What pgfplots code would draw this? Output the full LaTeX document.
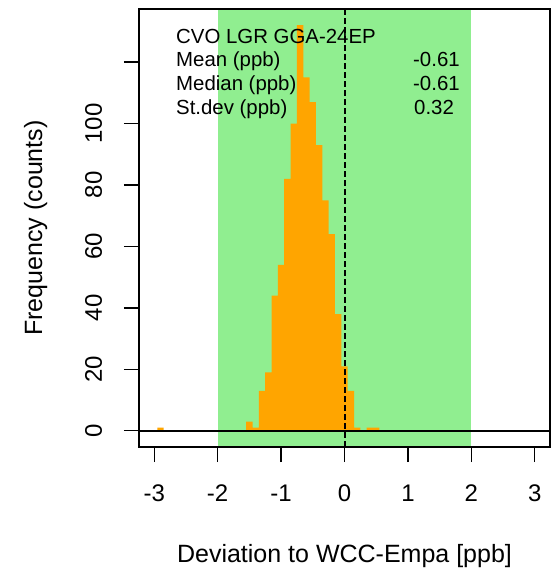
\documentclass[border=0pt]{standalone}
\usepackage{pgfplots}
\pgfplotsset{compat=1.18}
\usepackage{fontspec}
\setmainfont{Liberation Sans}
\definecolor{lgreen}{RGB}{144,238,144}
\definecolor{rorange}{RGB}{255,165,0}
\newcommand{\bigf}{\fontsize{24bp}{28bp}\selectfont}
\newcommand{\labf}{\fontsize{25bp}{29bp}\selectfont}
\newcommand{\smf}{\fontsize{20.4bp}{24bp}\selectfont}
\begin{document}
\begin{tikzpicture}
\useasboundingbox (0,0) rectangle (556bp,568bp);
\begin{axis}[
  at={(139bp,121bp)}, anchor=south west,
  scale only axis, width=411bp, height=438bp,
  xmin=-3.24, xmax=3.24, ymin=-5.28, ymax=137.28,
  axis on top,
  axis line style={line width=1.3bp},
  xtick={-3,-2,-1,0,1,2,3}, xticklabels={-3,-2,-1,0,1,2,3},
  ytick={0,20,40,60,80,100,120}, yticklabels={0,20,40,60,80,100,{}},
  xtick pos=left, ytick pos=left,
  tick align=outside, major tick length=15bp,
  tick style={black, line width=1.3bp},
  xticklabel style={font=\bigf, anchor=north, inner sep=0pt},
  xticklabel shift=23bp,
  yticklabel style={font=\bigf, rotate=90, anchor=base, inner sep=0pt},
  yticklabel shift=22bp,
  xlabel={Deviation to WCC-Empa [ppb]},
  ylabel={Frequency (counts)},
  xlabel style={at={(axis description cs:0.5,-0.2648)}, anchor=base, font=\labf, inner sep=0pt},
  ylabel style={at={(axis description cs:-0.236,0.5)}, anchor=base, font=\labf, inner sep=0pt},
]
\addplot[fill=lgreen, draw=none] coordinates {(-2,-5.28) (2,-5.28) (2,137.28) (-2,137.28)} -- cycle;
\addplot[ybar interval, fill=rorange, draw=none] coordinates {
(-2.95,1) (-2.85,0) (-1.55,3) (-1.45,1) (-1.35,13) (-1.25,19) (-1.15,44) (-1.05,54)
(-0.95,82) (-0.85,100) (-0.75,132) (-0.65,115) (-0.55,107) (-0.45,93) (-0.35,75)
(-0.25,64) (-0.15,38) (-0.05,21) (0.05,13) (0.15,1) (0.25,0) (0.35,1) (0.45,1) (0.55,0)};
\addplot[black, line width=1.6bp] coordinates {(-3.24,0) (3.24,0)};
\addplot[black, line width=2bp, dash pattern=on 5.5bp off 3.5bp] coordinates {(0,-5.28) (0,137.28)};
\end{axis}
\begin{scope}[every node/.style={anchor=base west, font=\smf, inner sep=0pt}]
\node at (176bp,524.7bp) {CVO LGR GGA-24EP};
\node at (176bp,501.3bp) {Mean (ppb)};
\node at (176bp,477.3bp) {Median (ppb)};
\node at (176bp,453.7bp) {St.dev (ppb)};
\node at (413bp,501.3bp) {-0.61};
\node at (413bp,477.3bp) {-0.61};
\node at (414bp,453.7bp) {0.32};
\end{scope}
\end{tikzpicture}
\end{document}
